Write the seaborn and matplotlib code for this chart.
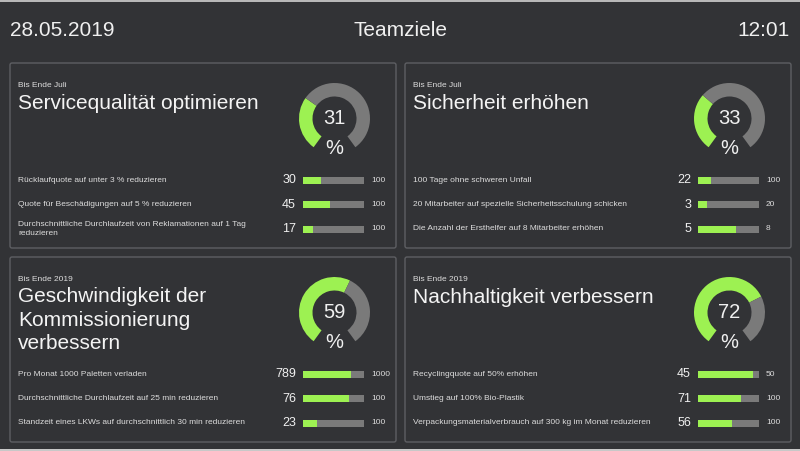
import matplotlib
matplotlib.use("Agg")
import matplotlib.pyplot as plt
import matplotlib.patches as mpatches
import numpy as np
import pandas as pd
import seaborn as sns

# dashboard values
header_date = "28.05.2019"
header_title = "Teamziele"
header_time = "12:01"

panel_dates = ["Bis Ende Juli", "Bis Ende Juli", "Bis Ende 2019", "Bis Ende 2019"]
panel_titles = ["Servicequalität optimieren",
                "Sicherheit erhöhen",
                "Geschwindigkeit der\nKommissionierung\nverbessern",
                "Nachhaltigkeit verbessern"]
panel_pct = [31, 33, 59, 72]

goal_labels = [
    ["Rücklaufquote auf unter 3 % reduzieren",
     "Quote für Beschädigungen auf 5 % reduzieren",
     "Durchschnittliche Durchlaufzeit von Reklamationen auf 1 Tag\nreduzieren"],
    ["100 Tage ohne schweren Unfall",
     "20 Mitarbeiter auf spezielle Sicherheitsschulung schicken",
     "Die Anzahl der Ersthelfer auf 8 Mitarbeiter erhöhen"],
    ["Pro Monat 1000 Paletten verladen",
     "Durchschnittliche Durchlaufzeit auf 25 min reduzieren",
     "Standzeit eines LKWs auf durchschnittlich 30 min reduzieren"],
    ["Recyclingquote auf 50% erhöhen",
     "Umstieg auf 100% Bio-Plastik",
     "Verpackungsmaterialverbrauch auf 300 kg im Monat reduzieren"],
]
goal_values = [[30, 45, 17], [22, 3, 5], [789, 76, 23], [45, 71, 56]]
goal_targets = [[100, 100, 100], [100, 20, 8], [1000, 100, 100], [50, 100, 100]]

BG = "#323336"
BORDER = "#5e5f63"
GREEN = "#9df152"
GREY = "#7a7a7a"
TXT = "#f0f0f0"

sns.set_theme(style="white")
plt.rcParams['font.family'] = ['Liberation Sans', 'DejaVu Sans']

W, H = 800, 451
fig = plt.figure(figsize=(8, 4.51), dpi=100, facecolor=BG)
bg = fig.add_axes([0, 0, 1, 1])
bg.set_xlim(0, W)
bg.set_ylim(H, 0)
bg.axis("off")
bg.set_facecolor(BG)

# screenshot edges
bg.add_patch(mpatches.Rectangle((0, 0), W, 2, color="#b8b8b8", lw=0))
bg.add_patch(mpatches.Rectangle((0, 448.5), W, 3, color="#c8c8c8", lw=0))

bg.text(10, 30, header_date, color=TXT, fontsize=15, va="center", ha="left")
bg.text(400, 30, header_title, color=TXT, fontsize=15, va="center", ha="center")
bg.text(790, 30, header_time, color=TXT, fontsize=15, va="center", ha="right")


def px_axes(x, y, w, h):
    return fig.add_axes([x / W, 1 - (y + h) / H, w / W, h / H])


panel_pos = [(10, 63), (405, 63), (10, 257), (405, 257)]
row_dy = [117, 141.5, 166]

for i, (px, py) in enumerate(panel_pos):
    bg.add_patch(mpatches.FancyBboxPatch((px, py), 386, 185,
                                         boxstyle="round,pad=0,rounding_size=2",
                                         fc=BG, ec=BORDER, lw=1))
    bg.text(px + 8, py + 24, panel_dates[i], color="#dddddd", fontsize=6,
            va="baseline", ha="left")
    if "\n" in panel_titles[i]:
        bg.text(px + 8, py + 30, panel_titles[i], color="#f4f4f4", fontsize=15,
                va="top", ha="left", linespacing=1.3)
    else:
        bg.text(px + 8, py + 46, panel_titles[i], color="#f4f4f4", fontsize=15,
                va="baseline", ha="left")

    # gauge
    r = 35.5
    gx, gy = px + 324.5, py + 55.5
    gax = px_axes(gx - r, gy - r, 2 * r, 2 * r)
    pct = panel_pct[i]
    gax.pie([pct * 0.8, (100 - pct) * 0.8, 20],
            colors=[GREEN, GREY, (0, 0, 0, 0)],
            startangle=234, counterclock=False, radius=1,
            wedgeprops=dict(width=0.38, linewidth=0))
    gax.set_xlim(-1, 1)
    gax.set_ylim(-1, 1)
    gax.axis("off")
    bg.text(gx, gy, str(pct), color=TXT, fontsize=14.5, ha="center", va="center")
    bg.text(gx, py + 85, "%", color=TXT, fontsize=14.5, ha="center", va="center")

    # goal rows
    for j in range(3):
        ry = py + row_dy[j]
        bg.text(px + 8, ry, goal_labels[i][j], color="#dddddd", fontsize=6,
                ha="left", va="center", linespacing=1.35)
        bg.text(px + 286, ry, str(goal_values[i][j]), color=TXT, fontsize=9,
                ha="right", va="center")
        bg.text(px + 361, ry, str(goal_targets[i][j]), color="#dddddd",
                fontsize=6, ha="left", va="center")
        bax = px_axes(px + 293, ry - 3.5, 61, 7)
        df = pd.DataFrame({"goal": ["g"], "target": [goal_targets[i][j]],
                           "value": [goal_values[i][j]]})
        sns.barplot(data=df, x="target", y="goal", orient="h", color=GREY,
                    width=1, saturation=1, ax=bax, linewidth=0)
        sns.barplot(data=df, x="value", y="goal", orient="h", color=GREEN,
                    width=1, saturation=1, ax=bax, linewidth=0)
        bax.set_xlim(0, goal_targets[i][j])
        bax.set_ylim(0.5, -0.5)
        bax.axis("off")

fig.savefig("out.png", dpi=100, facecolor=BG)
